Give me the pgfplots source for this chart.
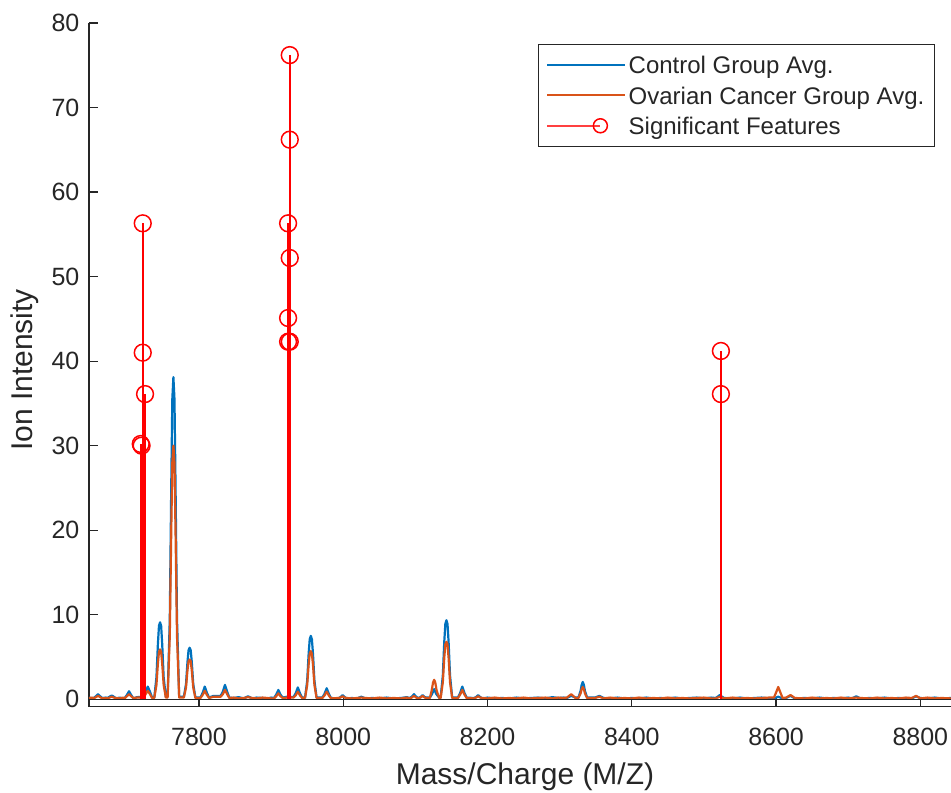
\documentclass[border=0pt]{standalone}
\usepackage{fontspec}
\setmainfont{Liberation Sans}
\usepackage{pgfplots}
\pgfplotsset{compat=1.18}
\definecolor{mblue}{rgb}{0,0.447,0.741}
\definecolor{morange}{rgb}{0.850,0.325,0.098}
\definecolor{axisgray}{rgb}{0.15,0.15,0.15}
\begin{document}
\begin{tikzpicture}
\begin{axis}[
  scale only axis, width=431pt, height=341.85pt,
  xmin=7647.5, xmax=8842.5, ymin=-0.88, ymax=80,
  axis x line=bottom, axis y line=left,
  every outer x axis line/.append style={-},
  every outer y axis line/.append style={-},
  axis line style={-, color=axisgray, line width=0.6pt},
  xtick={7800,8000,...,8800}, ytick={0,10,...,80},
  tick align=inside, major tick length=4.5pt,
  tick style={axisgray, line width=0.6pt},
  /pgf/number format/assume math mode=true,
  /pgf/number format/1000 sep={},
  tick label style={font=\fontsize{12.5}{15}\selectfont, text=axisgray},
  xticklabel style={yshift=-7pt},
  yticklabel style={xshift=-1.3pt},
  label style={font=\fontsize{15}{18}\selectfont, text=axisgray},
  xlabel={Mass/Charge (M/Z)},
  ylabel={Ion Intensity},
  xlabel style={at={(axis description cs:0.5058,-0.103)}, anchor=center},
  ylabel style={at={(axis description cs:-0.0742,0.4925)}, anchor=center},
  legend style={at={(rel axis cs:0.9814,0.9693)}, anchor=north east,
    draw=axisgray, line width=0.6pt, fill=white,
    font=\fontsize{12}{14}\selectfont, text=black!85,
    inner xsep=3.8pt, inner ysep=3pt, row sep=0.8pt,
    nodes={inner sep=1.2pt, text height=10.5pt, text depth=1.5pt}},
  legend cell align=left,
  clip=false,
]
\addplot[mblue, line width=1.1pt, line join=round,
  legend image code/.code={\draw[mblue, line width=0.9pt] (0pt,0pt) -- (39pt,0pt);}]
coordinates {
(7647.5,0.2) (7652,0.1) (7654,0.15) (7657,0.35) (7660,0.6) (7663,0.35) (7666,0.15) (7671,0.2)
(7673,0.15) (7676,0.3) (7679,0.45) (7682,0.3) (7685,0.1) (7690,0.2) (7695,0.1)
(7697,0.15) (7700,0.5) (7703,0.95) (7706,0.5) (7709,0.1) (7714,0.25)
(7723,0.3) (7726,0.9) (7729,1.5) (7732,0.9) (7735,0.2)
(7738,0.2) (7741,2.6) (7743,6.5) (7744.5,8.7) (7746,9.1) (7747.5,8.7) (7749,6.5) (7751,2.6) (7754,0.3)
(7756.5,0.3) (7759.5,9.5) (7761.5,25.0) (7763,35.5) (7764.5,38.1) (7766,35.5) (7767.5,25.0) (7769.5,9.5) (7772.5,0.3)
(7779,0.3) (7782,1.8) (7784,4.4) (7785.5,5.8) (7787,6.1) (7788.5,5.8) (7790,4.4) (7792,1.8) (7795,0.2)
(7802,0.2) (7805,0.75) (7808,1.5) (7811,0.75) (7814,0.2) (7820,0.4)
(7830,0.4) (7833,0.9) (7836,1.7) (7839,0.9) (7842,0.2) (7848,0.15) (7855,0.25)
(7862,0.1) (7868,0.35) (7874,0.1) (7880,0.2) (7888,0.15) (7895,0.1) (7900,0.2)
(7904,0.15) (7907,0.55) (7910,1.1) (7913,0.55) (7916,0.2) (7922,0.3)
(7931,0.25) (7934,0.7) (7937,1.4) (7940,0.7) (7943,0.2)
(7947,0.2) (7950,2.2) (7952,5.4) (7953.5,7.1) (7955,7.5) (7956.5,7.1) (7958,5.4) (7960,2.2) (7963,0.2)
(7971,0.2) (7974,0.65) (7977,1.3) (7980,0.65) (7983,0.15)
(7993,0.1) (7996,0.25) (7999,0.5) (8002,0.25) (8005,0.1) (8012,0.15)
(8019,0.1) (8025,0.3) (8031,0.1) (8040,0.15) (8050,0.1) (8060,0.2) (8070,0.1) (8080,0.15) (8088,0.25)
(8092,0.15) (8095,0.3) (8098,0.6) (8101,0.3) (8104,0.15)
(8107,0.25) (8110,0.5) (8113,0.25) (8116,0.2)
(8120,0.2) (8123,0.6) (8126,1.2) (8129,0.6) (8133,0.2)
(8135,0.2) (8138,2.8) (8140,6.8) (8141.5,8.9) (8143,9.35) (8144.5,8.9) (8146,6.8) (8148,2.8) (8151,0.2)
(8159,0.2) (8162,0.75) (8165,1.5) (8168,0.75) (8171,0.2)
(8181,0.15) (8184,0.25) (8187,0.5) (8190,0.25) (8193,0.1)
(8200,0.2) (8210,0.1) (8220,0.15) (8230,0.1) (8240,0.2) (8250,0.1) (8260,0.15) (8270,0.2)
(8280,0.1) (8290,0.25) (8298,0.15) (8305,0.2)
(8310,0.15) (8316,0.4) (8322,0.2)
(8326,0.2) (8329,1.0) (8330.5,1.7) (8332,2.05) (8333.5,1.7) (8335,1.0) (8338,0.2)
(8349,0.2) (8355,0.4) (8361,0.15) (8370,0.1) (8380,0.2) (8390,0.1) (8400,0.15) (8410,0.1)
(8420,0.2) (8430,0.1) (8440,0.15) (8450,0.1) (8460,0.2) (8470,0.1) (8480,0.15) (8490,0.2)
(8500,0.1) (8510,0.2) (8516,0.15) (8519,0.3) (8522,0.5) (8525,0.3) (8528,0.15)
(8540,0.1) (8550,0.2) (8560,0.1) (8570,0.15) (8580,0.2) (8590,0.1)
(8597,0.1) (8603,0.3) (8609,0.1) (8614,0.15) (8620,0.4) (8626,0.1)
(8640,0.15) (8650,0.1) (8660,0.2) (8670,0.1) (8680,0.15) (8690,0.1) (8700,0.2)
(8705,0.1) (8711,0.35) (8717,0.1) (8730,0.15) (8740,0.1) (8750,0.2) (8760,0.1) (8770,0.15) (8780,0.1)
(8788,0.1) (8794,0.35) (8800,0.15) (8810,0.1) (8820,0.2) (8830,0.1) (8842.5,0.15)
};
\addlegendentry{Control Group Avg.}
\addplot[morange, line width=1.1pt, line join=round,
  legend image code/.code={\draw[morange, line width=0.9pt] (0pt,0pt) -- (39pt,0pt);}]
coordinates {
(7647.5,0.15) (7652,0.2) (7654,0.1) (7657,0.25) (7660,0.4) (7663,0.25) (7666,0.1) (7671,0.15)
(7673,0.1) (7676,0.2) (7679,0.3) (7682,0.2) (7685,0.15) (7690,0.1) (7695,0.2)
(7697,0.1) (7700,0.35) (7703,0.6) (7706,0.35) (7709,0.15) (7714,0.2)
(7723,0.2) (7726,0.6) (7729,1.0) (7732,0.6) (7735,0.15)
(7738,0.15) (7741,1.7) (7743,4.2) (7744.5,5.6) (7746,5.9) (7747.5,5.6) (7749,4.2) (7751,1.7) (7754,0.2)
(7756.5,0.2) (7759.5,7.5) (7761.5,19.7) (7763,28.0) (7764.5,30.0) (7766,28.0) (7767.5,19.7) (7769.5,7.5) (7772.5,0.2)
(7779,0.2) (7782,1.4) (7784,3.4) (7785.5,4.5) (7787,4.7) (7788.5,4.5) (7790,3.4) (7792,1.4) (7795,0.15)
(7802,0.15) (7805,0.5) (7808,1.0) (7811,0.5) (7814,0.15) (7820,0.3)
(7830,0.3) (7833,0.6) (7836,1.1) (7839,0.6) (7842,0.15) (7848,0.2) (7855,0.1)
(7862,0.15) (7868,0.25) (7874,0.15) (7880,0.1) (7888,0.2) (7895,0.15) (7900,0.1)
(7904,0.1) (7907,0.35) (7910,0.7) (7913,0.35) (7916,0.15) (7922,0.2)
(7931,0.2) (7934,0.45) (7937,0.9) (7940,0.45) (7943,0.15)
(7947,0.15) (7950,1.7) (7952,4.1) (7953.5,5.4) (7955,5.7) (7956.5,5.4) (7958,4.1) (7960,1.7) (7963,0.15)
(7971,0.15) (7974,0.45) (7977,0.9) (7980,0.45) (7983,0.1)
(7993,0.15) (7996,0.2) (7999,0.35) (8002,0.2) (8005,0.15) (8012,0.1)
(8019,0.15) (8025,0.2) (8031,0.15) (8040,0.1) (8050,0.2) (8060,0.1) (8070,0.15) (8080,0.1) (8088,0.2)
(8092,0.1) (8095,0.2) (8098,0.4) (8101,0.2) (8104,0.1)
(8107,0.2) (8110,0.4) (8113,0.2) (8116,0.15)
(8120,0.15) (8122.5,1.0) (8124.5,2.0) (8126,2.3) (8127.5,2.0) (8129.5,1.0) (8133,0.15)
(8135,0.15) (8138,2.0) (8140,4.9) (8141.5,6.5) (8143,6.8) (8144.5,6.5) (8146,4.9) (8148,2.0) (8151,0.15)
(8159,0.15) (8162,0.55) (8165,1.1) (8168,0.55) (8171,0.15)
(8181,0.1) (8184,0.2) (8187,0.35) (8190,0.2) (8193,0.15)
(8200,0.1) (8210,0.2) (8220,0.1) (8230,0.15) (8240,0.1) (8250,0.2) (8260,0.1) (8270,0.15)
(8280,0.2) (8290,0.1) (8298,0.2) (8305,0.15)
(8310,0.2) (8316,0.6) (8322,0.15)
(8326,0.15) (8329,0.7) (8330.5,1.2) (8332,1.45) (8333.5,1.2) (8335,0.7) (8338,0.15)
(8349,0.15) (8355,0.3) (8361,0.1) (8370,0.2) (8380,0.1) (8390,0.15) (8400,0.1) (8410,0.2)
(8420,0.1) (8430,0.15) (8440,0.1) (8450,0.2) (8460,0.1) (8470,0.15) (8480,0.1) (8490,0.15)
(8500,0.2) (8510,0.1) (8516,0.1) (8519,0.2) (8522,0.3) (8525,0.2) (8528,0.1)
(8540,0.2) (8550,0.1) (8560,0.15) (8570,0.1) (8580,0.15) (8590,0.2)
(8597,0.2) (8600,0.8) (8603,1.45) (8606,0.8) (8609,0.15) (8614,0.2) (8620,0.5) (8626,0.15)
(8640,0.1) (8650,0.2) (8660,0.1) (8670,0.15) (8680,0.1) (8690,0.2) (8700,0.1)
(8705,0.15) (8711,0.2) (8717,0.15) (8730,0.1) (8740,0.2) (8750,0.1) (8760,0.15) (8770,0.1) (8780,0.2)
(8788,0.15) (8794,0.4) (8800,0.1) (8810,0.2) (8820,0.1) (8830,0.15) (8842.5,0.1)
};
\addlegendentry{Ovarian Cancer Group Avg.}
\addplot[axisgray, line width=0.6pt, forget plot] coordinates {(7647.5,0) (8842.5,0)};
\addplot[red, line width=0.9pt, ycomb, mark=o, mark size=4.2pt,
  mark options={solid, line width=0.75pt},
  legend image code/.code={\draw[red!75, line width=0.9pt] (0pt,0pt) -- (26.5pt,0pt);
    \draw[red, line width=0.75pt] (26.5pt,0pt) circle (3.5pt); \path (39pt,0pt);}]
coordinates {
(7719.2,30.2) (7720.4,30.0) (7722.0,56.3) (7722.0,41.0) (7725.2,36.1)
(7923.5,56.3) (7923.5,45.1) (7923.5,42.3) (7925.8,76.2) (7925.8,66.2) (7925.8,52.2) (7925.8,42.3)
(8523.5,41.2) (8523.5,36.1)
};
\addlegendentry{Significant Features}
\coordinate (bl) at (rel axis cs:0,0);
\coordinate (tr) at (rel axis cs:1,1);
\end{axis}
\pgfresetboundingbox
\useasboundingbox ([xshift=-44.5pt,yshift=-42.65pt]bl) rectangle ([yshift=11.5pt]tr);
\end{tikzpicture}
\end{document}
